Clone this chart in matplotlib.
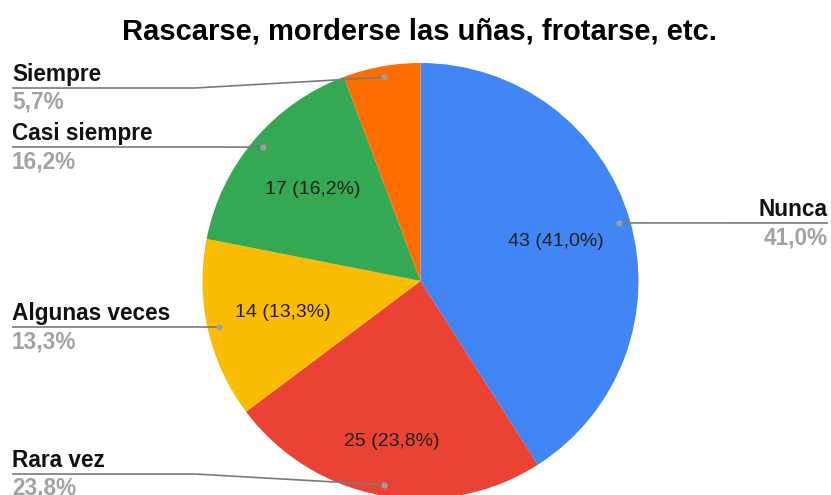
import numpy as np
import matplotlib.pyplot as plt

# --- data ---
categories = ["Nunca", "Rara vez", "Algunas veces", "Casi siempre", "Siempre"]
values = [43, 25, 14, 17, 6]
outer_pct_text = ["41,0%", "23.8%", "13,3%", "16,2%", "5,7%"]
TITLE = "Rascarse, morderse las uñas, frotarse, etc."

# --- style / layout (pixel space, y measured from top) ---
colors = ["#4285F4", "#EA4335", "#FBBC04", "#34A853", "#FF6D01"]
W, H = 831, 495
CX, CY, R = 420.5, 281, 218
inner_frac = [0.647, 0.75, 0.647, 0.647, 0.647]
label_y = [223, 474, 327, 147, 88]
label_side = ["right", "left", "left", "left", "left"]
LEFT_X, RIGHT_X, KINK_X = 12, 828, 195
FONT = "Liberation Sans"

plt.rcParams['font.family'] = [FONT, 'DejaVu Sans']

fig = plt.figure(figsize=(W / 100, H / 100), dpi=100)
ax = fig.add_axes([0, 0, 1, 1])

# y flipped so numbers read like the picture
def fy(y):
    return H - y

wedges, _ = ax.pie(values, colors=colors, startangle=90, counterclock=False,
                   center=(CX, fy(CY)), radius=R,
                   wedgeprops=dict(linewidth=0))
ax.set_xlim(0, W)
ax.set_ylim(0, H)
ax.set_aspect('equal')
ax.axis('off')

total = sum(values)
for i, w in enumerate(wedges):
    mid = np.deg2rad((w.theta1 + w.theta2) / 2)
    pct = values[i] / total * 100

    # value label inside slice (hidden for the small one)
    if pct >= 10:
        r_in = inner_frac[i] * R
        ax.text(CX + r_in * np.cos(mid), fy(CY) + r_in * np.sin(mid),
                f"{values[i]} ({pct:.1f}%)".replace(".", ","),
                ha='center', va='center', fontsize=14, color='#212121')

    # leader line + outside label
    dx, dy = CX + 0.95 * R * np.cos(mid), fy(CY) + 0.95 * R * np.sin(mid)
    ly = fy(label_y[i])
    if label_side[i] == "right":
        xs, ys = [dx, RIGHT_X], [dy, ly]
        tx, ha = RIGHT_X, 'right'
    else:
        xs, ys = [dx, KINK_X, LEFT_X], [dy, ly, ly]
        tx, ha = LEFT_X, 'left'
    ax.plot(xs, ys, color='#7a7a7a', lw=1.2, solid_capstyle='butt', zorder=3)
    ax.plot(dx, dy, 'o', ms=4.5, color='#9e9e9e', mec='none', zorder=4)
    ax.text(tx, ly + 7, categories[i], ha=ha, va='baseline',
            fontsize=16.3, fontweight='bold', color='#111111')
    ax.text(tx, ly - 21, outer_pct_text[i], ha=ha, va='baseline',
            fontsize=16.3, fontweight='bold', color='#a3a3a3')

ax.text(420, fy(39), TITLE, ha='center', va='baseline',
        fontsize=21, fontweight='bold', color='#000000')

fig.savefig("out.png", dpi=100, facecolor='white')
